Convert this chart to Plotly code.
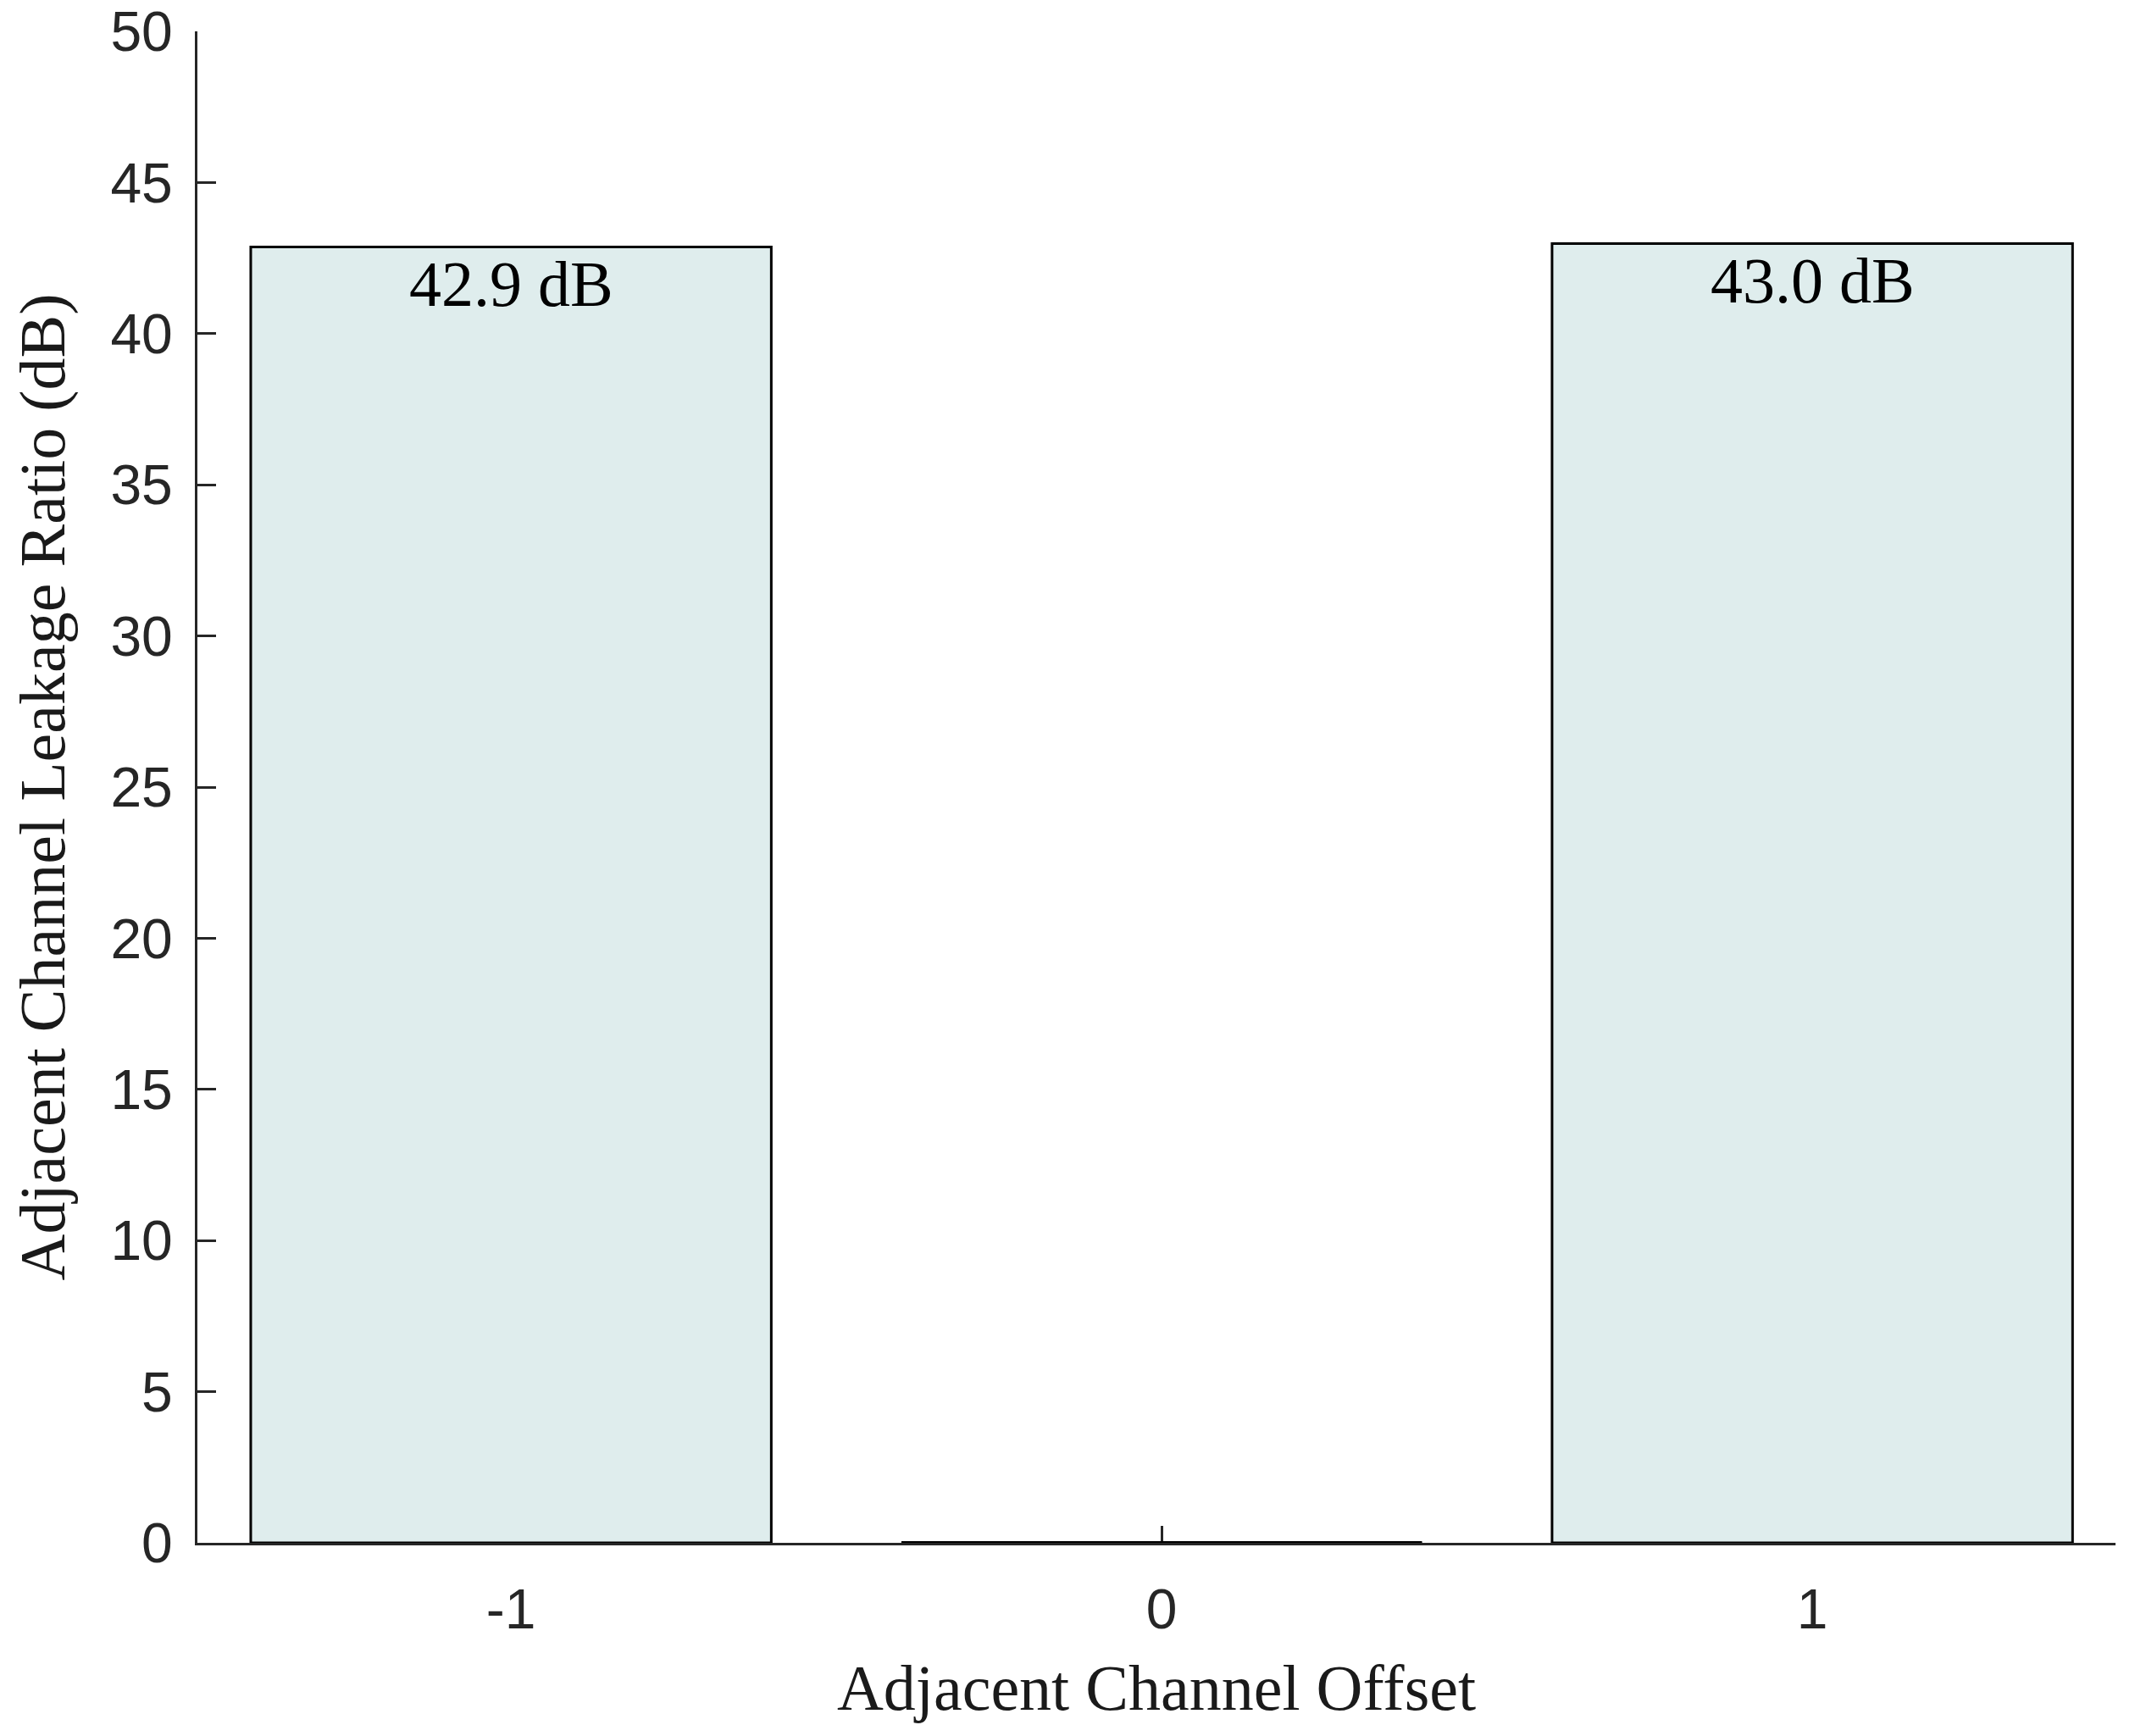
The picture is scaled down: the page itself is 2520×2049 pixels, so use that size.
import plotly.graph_objects as go

# Adjacent channel leakage ratio per channel offset
offsets = [-1, 0, 1]
aclr_db = [42.87, 0.0, 42.98]
bar_labels = ["42.9 dB", "", "43.0 dB"]

BAR_W = 0.8
FILL = "#dfeded"
AXIS_COL = "#262626"
SERIF = "Liberation Serif, Times New Roman, serif"
SANS = "Liberation Sans, Arial, sans-serif"

fig = go.Figure()

fig.add_trace(go.Bar(
    x=offsets, y=aclr_db, width=BAR_W,
    marker=dict(color=FILL, line=dict(color="black", width=3)),
    showlegend=False, hoverinfo="x+y"))

# plotly hides zero-height bars, MATLAB still draws their outline
for xo, v in zip(offsets, aclr_db):
    if v == 0:
        fig.add_trace(go.Scatter(
            x=[xo - BAR_W / 2, xo + BAR_W / 2], y=[v, v], mode="lines",
            line=dict(color="black", width=4), showlegend=False, hoverinfo="skip"))

# value labels just under the top edge of each bar
for xo, v, lab in zip(offsets, aclr_db, bar_labels):
    if lab:
        fig.add_annotation(x=xo, y=v, text=lab, showarrow=False,
                           yanchor="top", yshift=0,
                           font=dict(family=SERIF, size=76, color="black"))

# page body adds an 8px offset, margins compensate for it
fig.update_layout(
    width=2520, height=2049,
    margin=dict(l=225, r=31, t=29, b=236),
    paper_bgcolor="white", plot_bgcolor="white",
    bargap=0.2)

fig.update_xaxes(
    range=[-1.482, 1.466], tickvals=offsets, ticktext=[str(o) for o in offsets],
    automargin=False,
    showgrid=False, zeroline=False, showline=True, linecolor=AXIS_COL, linewidth=3,
    ticks="inside", ticklen=20, tickwidth=3, tickcolor=AXIS_COL,
    layer="below traces",
    tickfont=dict(family=SANS, size=66, color=AXIS_COL),
    ticklabelstandoff=19,
    title=dict(text="Adjacent Channel Offset", standoff=30,
               font=dict(family=SERIF, size=76, color="#1a1a1a")))

fig.update_yaxes(
    range=[0, 50], dtick=5, automargin=False, ticklabeloverflow="allow",
    showgrid=False, zeroline=False, showline=True, linecolor=AXIS_COL, linewidth=3,
    ticks="inside", ticklen=22, tickwidth=3, tickcolor=AXIS_COL,
    tickfont=dict(family=SANS, size=66, color=AXIS_COL),
    ticklabelstandoff=13,
    title=dict(text="Adjacent Channel Leakage Ratio (dB)", standoff=33,
               font=dict(family=SERIF, size=76, color="#1a1a1a")))

fig.write_html("out.html")
